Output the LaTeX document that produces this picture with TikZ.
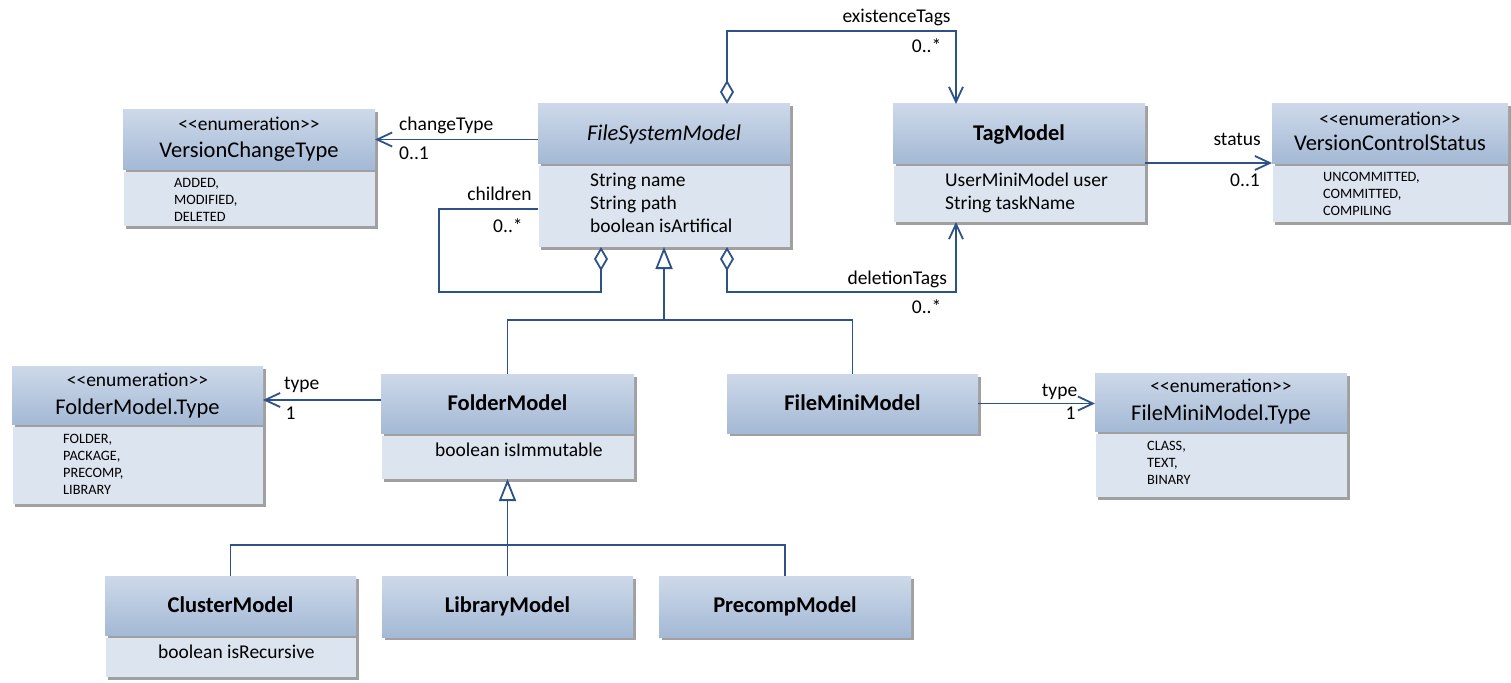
\documentclass[tikz,border=0pt]{standalone}
\usepackage{fontspec}
\setmainfont{Carlito}
\usetikzlibrary{arrows.meta,calc}
\definecolor{ln}{RGB}{45,82,136}
\definecolor{hdtop}{RGB}{205,217,233}
\definecolor{hdbot}{RGB}{164,185,213}
\definecolor{attrc}{RGB}{220,228,239}
\definecolor{shd}{RGB}{160,160,160}
\newcommand\tfont{\fontsize{22.5}{27}\selectfont}
\newcommand\afont{\fontsize{19.5}{23}\selectfont}
\newcommand\efont{\fontsize{14.3}{17}\selectfont}
\newcommand\enumst{\textless\kern0pt\textless enumeration\textgreater\kern0pt\textgreater}
\tikzset{
  boxnode/.style={anchor=north west,inner sep=0pt,outer sep=0pt,draw=none},
  conn/.style={draw=ln,line width=1.8pt},
  assoc/.style={conn,-{Straight Barb[length=15pt,width=14pt]}},
  aggr/.style={conn,{Diamond[open,length=24pt,width=14pt]}-},
  aggrassoc/.style={conn,{Diamond[open,length=24pt,width=14pt]}-{Straight Barb[length=15pt,width=14pt]}},
  gen/.style={conn,-{Triangle[open,length=22pt,width=17pt]}},
  lbl/.style={font=\afont,inner sep=0pt},
  ttl/.style={font=\tfont,inner sep=0pt,anchor=base},
  att/.style={font=\afont,inner sep=0pt,anchor=base west},
  itm/.style={font=\efont,inner sep=0pt,anchor=base west},
}
% name x1 y1 x2 ysplit y2
\newcommand\classA[6]{%
  \fill[shd] (#2+2.5,#3+2.5) rectangle (#4+2.5,#6+2.5);
  \shade[top color=hdtop,bottom color=hdbot] (#2,#3) rectangle (#4,#5);
  \fill[attrc] (#2+1,#5+2.5) rectangle (#4,#6);
  \node[boxnode,minimum width=#4-#2,minimum height=#5-#3] (#1h) at (#2,#3) {};
  \node[boxnode,minimum width=#4-#2,minimum height=#6-#3] (#1) at (#2,#3) {};}
% name x1 y1 x2 y2
\newcommand\classB[5]{%
  \fill[shd] (#2+2.5,#3+2.5) rectangle (#4+2.5,#5+2.5);
  \shade[top color=hdtop,bottom color=hdbot] (#2,#3) rectangle (#4,#5);
  \node[boxnode,minimum width=#4-#2,minimum height=#5-#3] (#1h) at (#2,#3) {};
  \node[boxnode,minimum width=#4-#2,minimum height=#5-#3] (#1) at (#2,#3) {};}
\begin{document}
\begin{tikzpicture}[x=1pt,y=-1pt]
\useasboundingbox (0,0) rectangle (1511,682);
% ---------- boxes ----------
\classA{VCT}{123}{110}{375}{169}{226}
\classA{FSM}{538}{104}{790}{163}{247}
\classA{Tag}{893}{104}{1145}{163}{222}
\classA{VCS}{1272}{104}{1508}{163}{222}
\classA{FMT}{12}{366}{263}{424}{504}
\classA{FM}{381}{374}{634}{433}{479}
\classB{FMM}{727}{374}{978}{433}
\classA{FMMT}{1095}{373}{1347}{431}{497}
\classA{CM}{105}{576}{356}{635}{677}
\classB{LM}{382}{576}{633}{637}
\classB{PM}{659}{576}{911}{637}
% ---------- box texts ----------
\node[ttl,font=\afont] (vct1) at (249,130.7) {\enumst};
\node[ttl] (vct2) at (249,157.3) {VersionChangeType};
\node[itm] (vct3) at (174,187.3) {ADDED,};
\node[itm] (vct4) at (174,204.3) {MODIFIED,};
\node[itm] (vct5) at (174,221.3) {DELETED};

\node[ttl] (fsm1) at (664,140.7) {\itshape FileSystemModel};
\node[att] (fsm2) at (590,186.7) {String name};
\node[att] (fsm3) at (590,209.7) {String path};
\node[att] (fsm4) at (590,232.7) {boolean isArtifical};

\node[ttl] (tag1) at (1019,140.7) {\bfseries TagModel};
\node[att] (tag2) at (945,186.7) {UserMiniModel user};
\node[att] (tag3) at (945,209.7) {String taskName};

\node[ttl,font=\afont] (vcs1) at (1390,125) {\enumst};
\node[ttl] (vcs2) at (1390,150.7) {VersionControlStatus};
\node[itm] (vcs3) at (1323,181.7) {UNCOMMITTED,};
\node[itm] (vcs4) at (1323,198.7) {COMMITTED,};
\node[itm] (vcs5) at (1323,215.7) {COMPILING};

\node[ttl,font=\afont] (fmt1) at (137.5,386.7) {\enumst};
\node[ttl] (fmt2) at (137.5,414) {FolderModel.Type};
\node[itm] (fmt3) at (63,443.3) {FOLDER,};
\node[itm] (fmt4) at (63,460.3) {PACKAGE,};
\node[itm] (fmt5) at (63,477.3) {PRECOMP,};
\node[itm] (fmt6) at (63,494.3) {LIBRARY};

\node[ttl] (fm1) at (507.5,410.7) {\bfseries FolderModel};
\node[att] (fm2) at (435,456.7) {boolean isImmutable};

\node[ttl] (fmm1) at (852.5,410.7) {\bfseries FileMiniModel};

\node[ttl,font=\afont] (fmmt1) at (1221,392.5) {\enumst};
\node[ttl] (fmmt2) at (1221,420.5) {FileMiniModel.Type};
\node[itm] (fmmt3) at (1147,450.7) {CLASS,};
\node[itm] (fmmt4) at (1147,467.7) {TEXT,};
\node[itm] (fmmt5) at (1147,484.7) {BINARY};

\node[ttl] (cm1) at (230.5,612.7) {\bfseries ClusterModel};
\node[att] (cm2) at (158,658.5) {boolean isRecursive};
\node[ttl] (lm1) at (507.5,612.7) {\bfseries LibraryModel};
\node[ttl] (pm1) at (785,612.7) {\bfseries PrecompModel};
% ---------- connectors ----------
% changeType
\draw[assoc] (FSM.west |- VCTh.east) -- (VCTh.east);
% status
\draw[assoc] (Tag.east |- VCSh.south) -- (VCSh.south -| VCS.west);
% existenceTags
\coordinate (e1) at ($(FSM.north)+(63,0)$);
\coordinate (e2) at ($(Tag.north)+(-63,0)$);
\draw[aggrassoc] (e1) -- ++(0,-73) -| (e2);
% deletionTags
\coordinate (d1) at ($(FSM.south)+(63,0)$);
\coordinate (d2) at ($(Tag.south)+(-63,0)$);
\draw[aggrassoc] (d1) -- ++(0,45) -| (d2);
% children
\coordinate (c1) at ($(FSM.south)+(-63,0)$);
\coordinate (c2) at ($(FSM.north west)+(0,105)$);
\coordinate (c3) at ($(c2)+(-99,0)$);
\draw[aggr] (c1) -- ++(0,45) -| (c3) -- (c2);
% generalization to FileSystemModel
\coordinate (j1) at ($(FSM.south)+(0,73)$);
\draw[conn] (FM.north) |- (j1) -| (FMM.north);
\draw[gen] (j1) -- (FSM.south);
% generalization to FolderModel
\coordinate (j2) at ($(FM.south)+(0,66)$);
\draw[conn] (CM.north) |- (j2) -| (PM.north);
\draw[conn] (LM.north) -- (j2);
\draw[gen] (j2) -- (FM.south);
% type associations
\draw[assoc] ($(FMh.west)+(0,-3.5)$) -- ($(FMh.west -| FMT.east)+(0,-3.5)$);
\draw[assoc] (FMMh.east) -- (FMMh.east -| FMMT.west);
% ---------- connector labels ----------
\node[lbl,anchor=base west] (l1) at (399,130.7) {changeType};
\node[lbl,anchor=base west] (l2) at (399,159.3) {0..1};
\node[lbl,anchor=base east] (l3) at (531.7,200.7) {children};
\node[lbl,anchor=base west] (l4) at (493,232.7) {0..*};
\node[lbl,anchor=base west] (l5) at (842.3,22.7) {existenceTags};
\node[lbl,anchor=base west] (l6) at (911.7,52.7) {0..*};
\node[lbl,anchor=base west] (l7) at (847.3,284) {deletionTags};
\node[lbl,anchor=base west] (l8) at (911.7,313.5) {0..*};
\node[lbl,anchor=base east] (l9) at (1261,146) {status};
\node[lbl,anchor=base east] (l10) at (1260,186) {0..1};
\node[lbl,anchor=base west] (l11) at (283.8,389.3) {type};
\node[lbl,anchor=base west] (l12) at (285.4,419.3) {1};
\node[lbl,anchor=base west] (l13) at (1041.7,396.7) {type};
\node[lbl,anchor=base east] (l14) at (1075.7,419.3) {1};
\end{tikzpicture}
\end{document}
